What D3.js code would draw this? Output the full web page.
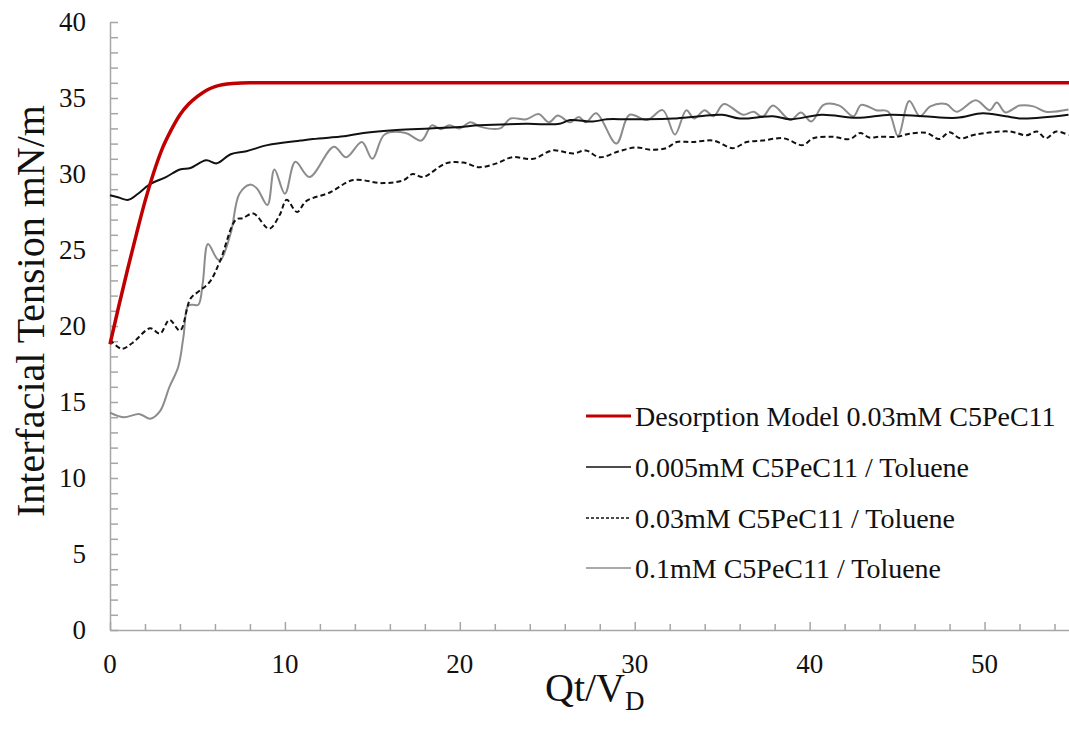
<!DOCTYPE html>
<html>
<head>
<meta charset="UTF-8">
<style>
body { margin: 0; background: #fff; }
svg { display: block; }
.axis path, .axis line { stroke: #a6a6a6; stroke-width: 1.5px; }
.axis text { font-family: "Liberation Serif", serif; font-size: 27px; fill: #111; }
.line { fill: none; }
.title { font-family: "Liberation Serif", serif; fill: #111; }
.legend text { font-family: "Liberation Serif", serif; font-size: 28px; fill: #111; }
</style>
</head>
<body>
<svg width="1069" height="730"></svg>
<script src="https://cdn.jsdelivr.net/npm/d3@7"></script>
<script>
// series names (legend order)
var seriesNames = ["Desorption Model 0.03mM C5PeC11", "0.005mM C5PeC11 / Toluene",
                   "0.03mM C5PeC11 / Toluene", "0.1mM C5PeC11 / Toluene"];

// [Qt/VD, interfacial tension mN/m]
var model = [[0,18.8],[0.5,21.3],[1,23.7],[1.5,26.0],[2,28.2],[2.5,30.1],[3,31.7],[3.5,32.9],
  [4,33.9],[4.5,34.6],[5,35.1],[5.5,35.5],[6,35.75],[7,35.95],[8,36],[12,36],[55,36]];

var c005 = [[0,28.6],[0.5,28.45],[1.05,28.3],[1.6,28.7],[2.25,29.3],[3.2,29.8],[4,30.3],[4.6,30.4],
  [5.5,30.9],[6.1,30.7],[6.9,31.3],[7.8,31.5],[9,31.9],[10.9,32.2],[11.6,32.3],[13.1,32.45],[13.5,32.5],
  [14.5,32.7],[16.4,32.9],[18.3,33.0],[20,33.1],[21.1,33.2],[23.8,33.3],[25.7,33.3],[26.3,33.55],
  [27.6,33.45],[28.4,33.6],[29.5,33.6],[30.5,33.6],[32.2,33.65],[33.7,33.8],[35,33.9],[36,33.65],
  [37.9,33.8],[38.9,33.6],[40.7,33.9],[42.7,33.7],[44.6,33.9],[46.5,33.8],[48.4,33.7],[49.9,34.0],
  [51.2,33.8],[52.2,33.65],[54.8,33.9]];

var c03 = [[0,19.1],[0.67,18.5],[1.3,18.9],[2.3,19.85],[2.86,19.5],[3.4,20.4],[4,19.7],[4.6,21.8],
  [5.1,22.3],[5.7,22.9],[6.3,24.3],[7.2,27.0],[7.6,27.1],[8.2,27.4],[9.1,26.4],[9.7,27.3],[10.1,28.3],
  [10.7,27.5],[11.2,28.2],[12.6,28.8],[13.9,29.6],[15.6,29.4],[16.8,29.6],[17.3,30.0],[17.9,29.8],
  [19.2,30.7],[20.2,30.75],[21.1,30.45],[22.1,30.7],[23,31.1],[24.2,31.0],[25.3,31.55],[26.5,31.35],
  [27.2,31.55],[28,31.1],[29.1,31.5],[30.1,31.75],[30.9,31.6],[31.8,31.7],[32.4,32.1],[33.3,32.1],
  [34.5,32.2],[35.6,31.7],[36.4,32.1],[37.3,32.2],[38.5,32.35],[39.6,31.9],[40.2,32.35],[41.3,32.45],
  [42.3,32.3],[42.9,32.7],[43.4,32.4],[44,32.45],[45,32.45],[45.7,32.65],[46.7,32.7],[47.4,32.3],
  [48,32.75],[48.6,32.35],[49.5,32.6],[51.4,32.8],[52.4,32.55],[53,32.8],[53.5,32.35],[54.1,32.8],
  [54.8,32.55]];

var c1 = [[0,14.3],[0.76,14.0],[1.7,14.2],[2.3,13.9],[2.86,14.4],[3.4,16.0],[3.9,17.3],[4.2,19.3],
  [4.45,21.3],[4.7,21.4],[5.05,21.4],[5.3,22.8],[5.6,25.4],[6.1,24.45],[6.3,24.3],[6.9,26.1],
  [7.4,28.7],[8,29.3],[8.4,29.05],[9,27.96],[9.4,30.3],[10,28.7],[10.6,30.8],[11.4,29.8],[12.8,31.8],
  [13.5,31.1],[14.4,32.1],[15.0,31.0],[15.7,32.6],[16.9,32.7],[17.8,32.2],[18.4,33.2],[18.9,32.95],
  [19.4,33.2],[20,33.0],[20.6,33.4],[21.2,33.1],[22.3,33.0],[22.9,33.65],[23.8,33.6],[24.5,33.95],
  [25.1,33.4],[25.6,33.85],[26.3,33.4],[26.8,33.75],[27.2,33.4],[27.8,34.0],[28.95,32.0],[29.7,33.9],
  [30.7,33.55],[31.6,34.2],[32.3,32.6],[32.95,34.2],[33.4,33.65],[34,34.2],[34.5,33.8],[35.1,34.6],
  [36.2,33.9],[36.8,34.1],[37.3,33.75],[37.9,34.5],[38.9,33.55],[39.5,34.05],[40.1,33.45],[40.8,34.55],
  [41.7,34.5],[42.5,33.8],[42.95,34.55],[43.8,34.2],[44.5,34.1],[45.05,32.5],[45.7,34.8],[46.3,33.8],
  [46.9,34.45],[47.8,34.6],[48.4,34.1],[49.5,34.85],[50.3,34.2],[50.7,34.7],[51.2,34.05],[52,34.5],
  [52.8,34.45],[53.5,34.1],[54.8,34.25]];

var xMajor = [0, 10, 20, 30, 40, 50];
var yMajor = [0, 5, 10, 15, 20, 25, 30, 35, 40];

var svg = d3.select("svg");

var x = d3.scaleLinear().domain([0, 55]).range([110, 1072]),
    y = d3.scaleLinear().domain([0, 40]).range([630, 22]);

// x axis: minor ticks every 2, major every 10
svg.append("g").attr("class", "axis")
    .attr("transform", "translate(0,630)")
    .call(d3.axisTop(x).tickValues(d3.range(0, 56, 2).filter(function(d) { return d % 10; }))
      .tickSize(6).tickFormat(""))
    .call(function(g) { g.select(".domain").remove(); });

svg.append("g").attr("class", "axis")
    .attr("transform", "translate(0,630)")
    .call(d3.axisTop(x).tickValues(xMajor).tickSize(8).tickSizeOuter(0).tickFormat(""))
    .call(function(g) { g.selectAll("text").remove(); });

svg.append("g").attr("class", "axis")
    .selectAll("text").data(xMajor).enter().append("text")
    .attr("x", function(d) { return x(d); })
    .attr("y", 673)
    .attr("text-anchor", "middle")
    .style("font-family", "Liberation Serif")
    .text(function(d) { return d; });

// y axis: ticks every 1
svg.append("g").attr("class", "axis")
    .attr("transform", "translate(110,0)")
    .call(d3.axisRight(y).tickValues(d3.range(0, 41, 1)).tickSize(8).tickSizeOuter(0).tickFormat(""));

svg.append("g").attr("class", "axis")
    .selectAll("text").data(yMajor).enter().append("text")
    .attr("x", 86)
    .attr("y", function(d) { return y(d); })
    .attr("dy", "0.34em")
    .attr("text-anchor", "end")
    .style("font-family", "Liberation Serif")
    .text(function(d) { return d; });

// titles
svg.append("text").attr("class", "title")
    .attr("transform", "translate(44,311) rotate(-90)")
    .attr("text-anchor", "middle")
    .style("font-size", "40px")
    .text("Interfacial Tension mN/m");

var xt = svg.append("text").attr("class", "title")
    .attr("x", 545).attr("y", 701)
    .style("font-size", "40px")
    .text("Qt/V");
xt.append("tspan").attr("dy", 9).style("font-size", "27px").text("D");

// lines
var smooth = d3.line()
    .curve(d3.curveCatmullRom.alpha(0.5))
    .x(function(d) { return x(d[0]); })
    .y(function(d) { return y(d[1]); });

var mono = d3.line()
    .curve(d3.curveMonotoneX)
    .x(function(d) { return x(d[0]); })
    .y(function(d) { return y(d[1]); });

var styles = [
  {color: "#c00000", width: 3.5, dash: null},
  {color: "#111", width: 2, dash: null},
  {color: "#111", width: 2, dash: "5,3"},
  {color: "#8c8c8c", width: 2, dash: null}
];

svg.append("path").attr("class", "line").attr("d", smooth(c1))
    .style("stroke", styles[3].color).style("stroke-width", styles[3].width);
svg.append("path").attr("class", "line").attr("d", smooth(c03))
    .style("stroke", styles[2].color).style("stroke-width", styles[2].width)
    .style("stroke-dasharray", styles[2].dash);
svg.append("path").attr("class", "line").attr("d", smooth(c005))
    .style("stroke", styles[1].color).style("stroke-width", styles[1].width);
svg.append("path").attr("class", "line").attr("d", mono(model))
    .style("stroke", styles[0].color).style("stroke-width", styles[0].width);

// legend
var rowY = [416, 467, 518, 568];
var leg = svg.append("g").attr("class", "legend")
    .selectAll("g").data(seriesNames).enter().append("g")
    .attr("transform", function(d, i) { return "translate(586," + rowY[i] + ")"; });

leg.append("line")
    .attr("x1", 0).attr("x2", 45)
    .style("stroke", function(d, i) { return styles[i].color; })
    .style("stroke-width", function(d, i) { return i == 0 ? 3 : 1.6; })
    .style("stroke-dasharray", function(d, i) { return i == 2 ? "3,2" : null; });

leg.append("text")
    .attr("x", 49)
    .attr("dy", "0.36em")
    .style("font-family", "Liberation Serif")
    .text(function(d) { return d; });
</script>
</body>
</html>
